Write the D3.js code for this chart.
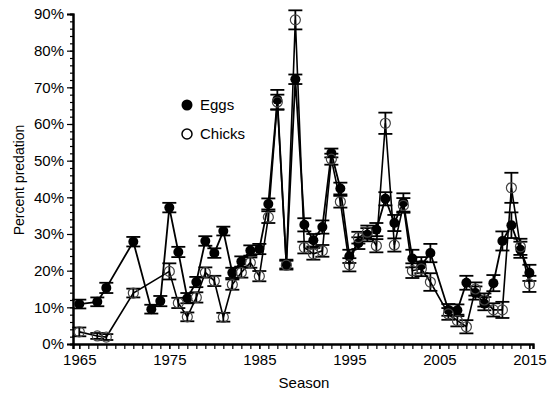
<!DOCTYPE html>
<html>
<head>
<meta charset="utf-8">
<script src="https://cdn.jsdelivr.net/npm/d3@7"></script>
<style>
  body { margin: 0; background: #fff; }
  text { font-family: "Liberation Sans", Arial, sans-serif; fill: #000; }
</style>
</head>
<body>
<svg id="chart" width="555" height="393"></svg>
<script>
// anni e valori (percentuale di predazione)
const eggYears = [1965,1967,1968,1971,1973,1974,1975,1976,1977,1978,1979,1980,1981,1982,1983,1984,1985,1986,1987,1988,1989,1990,1991,1992,1993,1994,1995,1996,1997,1998,1999,2000,2001,2002,2003,2004,2006,2007,2008,2009,2010,2011,2012,2013,2014,2015]
const eggs = [10.9,11.5,15.3,27.9,9.5,11.7,37.2,25.1,12.5,16.9,28.1,24.8,30.8,19.4,22.5,25.5,25.9,38.2,66.6,21.8,72.2,32.5,28.3,31.9,52.1,42.4,23.9,27.5,29.8,31.2,39.6,33.0,38.6,23.3,21.5,24.8,9.3,9.2,16.7,13.9,11.0,16.6,28.1,32.4,25.7,19.4]
const eggErr = [1.2,1.2,1.4,1.3,1.2,1.4,1.3,1.4,1.4,1.4,1.3,1.3,1.2,1.4,1.4,1.4,1.4,1.5,2.7,1.2,1.3,1.8,1.7,1.8,1.2,1.6,1.8,1.6,1.8,1.8,1.8,2.2,2.5,2.4,2.2,2.5,1.6,1.6,1.9,1.8,1.8,2.2,2.6,3.5,2.2,2.2]

const chickYears = [1965,1967,1968,1971,1975,1976,1977,1978,1979,1980,1981,1982,1983,1984,1985,1986,1987,1988,1989,1990,1991,1992,1993,1994,1995,1996,1997,1998,1999,2000,2001,2002,2003,2004,2006,2007,2008,2009,2010,2011,2012,2013,2014,2015]
const chicks = [3.3,2.2,1.9,13.9,19.8,11.2,7.4,12.7,19.5,17.2,7.3,16.2,19.5,22.2,18.5,34.6,66.0,21.5,88.4,26.3,24.6,25.4,50.4,38.8,21.6,29.0,30.5,26.8,60.2,27.0,37.8,20.0,20.5,16.9,8.2,6.4,4.7,15.0,12.0,9.3,9.3,42.6,26.5,16.4]
const chickErr = [1.2,0.8,0.8,1.2,2.2,1.4,1.2,1.4,1.4,1.4,1.2,1.4,1.4,1.4,1.4,1.6,2.0,1.2,2.6,1.6,1.6,1.6,1.5,1.6,1.8,1.6,1.8,1.8,2.9,1.8,2.0,2.0,2.0,2.4,1.6,1.6,1.8,1.8,1.8,1.8,2.2,4.1,2.2,2.2]

const yTickValues = [0,10,20,30,40,50,60,70,80,90]
const xTickValues = [1965,1975,1985,1995,2005,2015]

const svg = d3.select('#chart')

// scale
const xScale = d3.scaleLinear()
	.domain([1964.3, 2015.4])
	.range([73, 533])

const yScale = d3.scaleLinear()
	.domain([0, 90])
	.range([344, 14])

// asse y con tick minori ogni 2%
const yMinor = d3.axisLeft(yScale)
	.tickValues(d3.range(0, 91, 2))
	.tickSize(3)
	.tickFormat('')
svg.append('g')
	.attr('transform', 'translate(73,0)')
	.call(yMinor)

const yAxis = d3.axisLeft(yScale)
	.tickValues(yTickValues)
	.tickSize(6)
	.tickPadding(3)
	.tickFormat(d => d + '%')
svg.append('g')
	.attr('transform', 'translate(73,0)')
	.call(yAxis)
	.call(g => g.selectAll('text').style('font-size', '15px'))

// asse x con tick per ogni anno
const xMinor = d3.axisBottom(xScale)
	.tickValues(d3.range(1965, 2016))
	.tickSize(5)
	.tickFormat('')
svg.append('g')
	.attr('transform', 'translate(0,344)')
	.call(xMinor)

const xAxis = d3.axisBottom(xScale)
	.tickValues(xTickValues)
	.tickSize(5)
	.tickPadding(5)
	.tickFormat(d3.format('d'))
svg.append('g')
	.attr('transform', 'translate(0,344)')
	.call(xAxis)
	.call(g => g.selectAll('text').style('font-size', '15px'))

svg.selectAll('path.domain').style('stroke', '#000').style('stroke-width', 2)
svg.selectAll('.tick line').style('stroke', '#000').style('stroke-width', 1.2)

// etichette degli assi
svg.append('text')
	.attr('transform', 'rotate(-90)')
	.attr('x', -180)
	.attr('y', 24)
	.style('text-anchor', 'middle')
	.style('font-size', '14px')
	.text('Percent predation')

svg.append('text')
	.attr('x', 304)
	.attr('y', 388)
	.style('text-anchor', 'middle')
	.style('font-size', '15px')
	.text('Season')

const eggData = eggYears.map((y, i) => ({ year: y, v: eggs[i], e: eggErr[i] }))
const chickData = chickYears.map((y, i) => ({ year: y, v: chicks[i], e: chickErr[i] }))

const line = d3.line()
	.x(d => xScale(d.year))
	.y(d => yScale(d.v))

// linee
svg.append('path').datum(chickData)
	.attr('d', line)
	.style('fill', 'none').style('stroke', '#000').style('stroke-width', 1.6)
svg.append('path').datum(eggData)
	.attr('d', line)
	.style('fill', 'none').style('stroke', '#000').style('stroke-width', 1.8)

// barre di errore
function errorBars(data) {
	const g = svg.append('g').style('stroke', '#000').style('stroke-width', 1.8)
	g.selectAll('.v').data(data).enter().append('line')
		.attr('x1', d => xScale(d.year)).attr('x2', d => xScale(d.year))
		.attr('y1', d => yScale(d.v - d.e)).attr('y2', d => yScale(d.v + d.e))
	g.selectAll('.t').data(data).enter().append('line')
		.attr('x1', d => xScale(d.year) - 7).attr('x2', d => xScale(d.year) + 7)
		.attr('y1', d => yScale(d.v + d.e)).attr('y2', d => yScale(d.v + d.e))
	g.selectAll('.b').data(data).enter().append('line')
		.attr('x1', d => xScale(d.year) - 7).attr('x2', d => xScale(d.year) + 7)
		.attr('y1', d => yScale(d.v - d.e)).attr('y2', d => yScale(d.v - d.e))
}
errorBars(chickData)
errorBars(eggData)

// punti
svg.append('g')
	.selectAll('circle')
	.data(eggData)
	.enter()
	.append('circle')
	.attr('cx', d => xScale(d.year))
	.attr('cy', d => yScale(d.v))
	.attr('r', 5)
	.style('fill', '#000')

svg.append('g')
	.selectAll('circle')
	.data(chickData)
	.enter()
	.append('circle')
	.attr('cx', d => xScale(d.year))
	.attr('cy', d => yScale(d.v))
	.attr('r', 5)
	.style('fill', 'none')
	.style('stroke', '#444')
	.style('stroke-width', 1.2)

/* Legenda */
svg.append('circle').attr('cx', 187).attr('cy', 105).attr('r', 5.5).style('fill', '#000')
svg.append('circle').attr('cx', 187).attr('cy', 134).attr('r', 5).style('fill', 'none').style('stroke', '#000').style('stroke-width', 1.5)
svg.append('text').attr('x', 200).attr('y', 110).text('Eggs').style('font-size', '15px')
svg.append('text').attr('x', 200).attr('y', 139).text('Chicks').style('font-size', '15px')
</script>
</body>
</html>
